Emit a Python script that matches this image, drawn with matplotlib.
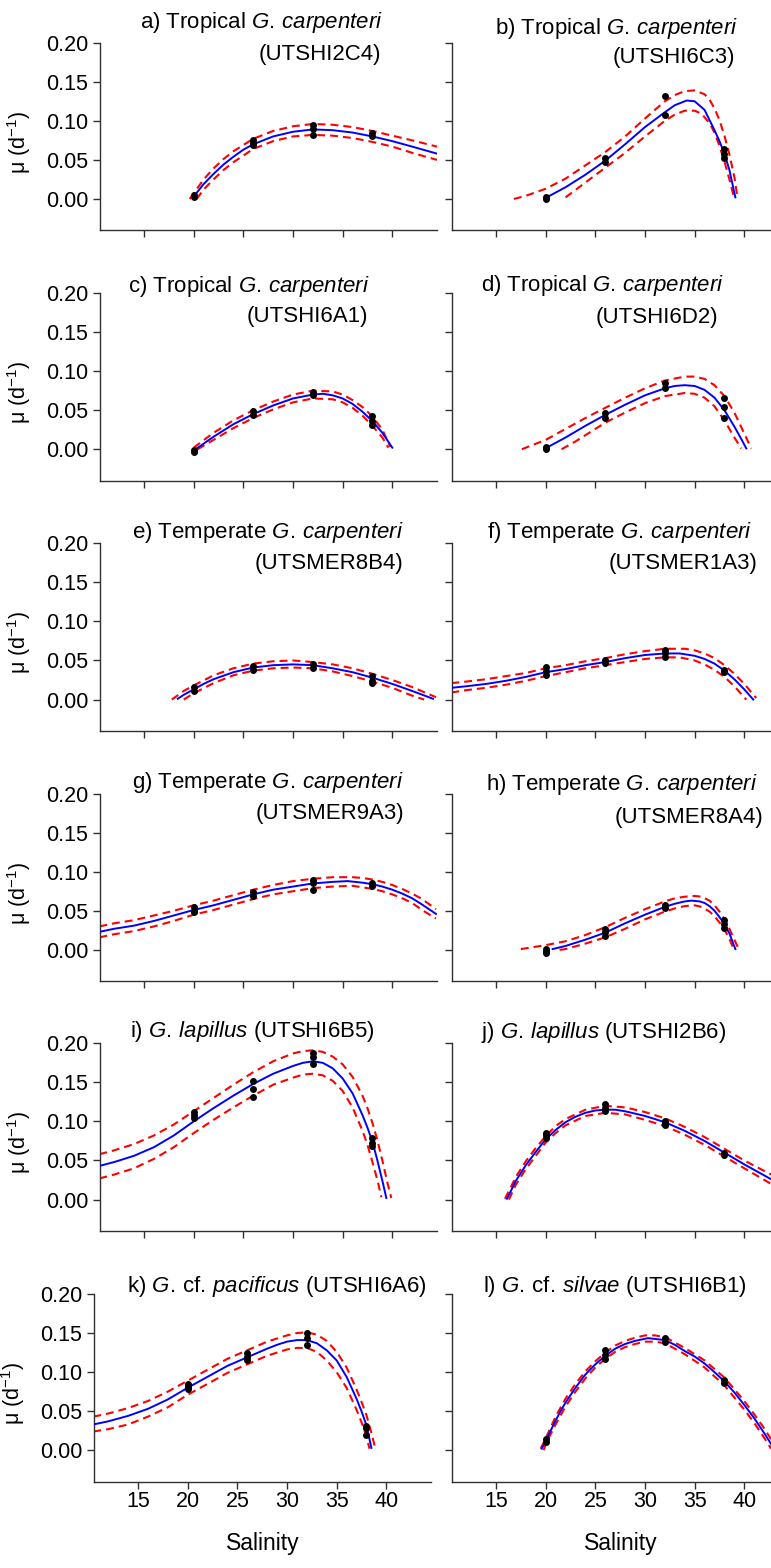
import matplotlib
matplotlib.use('Agg')
import matplotlib.pyplot as plt

plt.rcParams['font.family'] = ['Liberation Sans', 'DejaVu Sans']
plt.rcParams['mathtext.fontset'] = 'custom'
plt.rcParams['mathtext.rm'] = 'Liberation Sans'
plt.rcParams['mathtext.it'] = 'Liberation Sans:italic'
plt.rcParams['mathtext.bf'] = 'Liberation Sans:bold'

# ---- growth rate vs salinity: measured points, model fit, 95% bands ----

# a) Tropical G. carpenteri (UTSHI2C4)
a_sal = [20, 20, 26, 26, 26, 32, 32, 32, 38, 38]
a_mu = [0.005, 0.003, 0.076, 0.072, 0.069, 0.095, 0.089, 0.082, 0.084, 0.080]
a_fit_s = [20.0, 20.5, 21, 22, 23, 24, 25, 26, 28, 30, 32, 34, 36, 38, 40, 42, 44.5]
a_fit = [0.003, 0.011, 0.019, 0.032, 0.044, 0.054, 0.063, 0.070, 0.080, 0.086, 0.089, 0.088, 0.085, 0.080, 0.074, 0.067, 0.058]
a_up_s = [19.6, 20.5, 21, 22, 23, 24, 26, 28, 30, 32, 34, 36, 38, 40, 42, 44.5]
a_up = [0.000, 0.016, 0.025, 0.039, 0.051, 0.061, 0.077, 0.087, 0.093, 0.096, 0.095, 0.092, 0.087, 0.081, 0.075, 0.067]
a_lo_s = [20.3, 21, 22, 23, 24, 26, 28, 30, 32, 34, 36, 38, 40, 42, 44.5]
a_lo = [0.000, 0.012, 0.025, 0.037, 0.047, 0.064, 0.074, 0.080, 0.082, 0.081, 0.078, 0.073, 0.067, 0.059, 0.050]

# b) Tropical G. carpenteri (UTSHI6C3)
b_sal = [20, 20, 26, 26, 32, 32, 38, 38, 38]
b_mu = [0.002, 0.000, 0.052, 0.047, 0.132, 0.108, 0.064, 0.058, 0.053]
b_fit_s = [20.1, 22, 24, 26, 28, 30, 32, 33, 34.2, 35, 36, 37, 37.5, 38, 38.5, 39.1]
b_fit = [0.002, 0.015, 0.031, 0.049, 0.070, 0.092, 0.111, 0.120, 0.126, 0.125, 0.114, 0.088, 0.074, 0.058, 0.037, 0.002]
b_up_s = [16.8, 18, 20, 22, 24, 26, 28, 30, 32, 33, 34, 35, 36, 36.5, 37, 37.5, 38, 38.5, 39, 39.3]
b_up = [0.000, 0.004, 0.013, 0.026, 0.043, 0.060, 0.080, 0.103, 0.125, 0.133, 0.138, 0.139, 0.134, 0.127, 0.116, 0.101, 0.081, 0.057, 0.028, 0.003]
b_lo_s = [22.0, 24, 26, 28, 30, 32, 33, 34, 35, 35.7, 36.5, 37, 37.5, 38, 38.5, 38.9]
b_lo = [0.002, 0.021, 0.040, 0.059, 0.080, 0.100, 0.108, 0.113, 0.113, 0.109, 0.097, 0.085, 0.068, 0.048, 0.025, 0.005]

# c) Tropical G. carpenteri (UTSHI6A1)
c_sal = [20, 20, 26, 26, 32, 32, 38, 38, 38]
c_mu = [-0.003, -0.001, 0.049, 0.044, 0.073, 0.070, 0.043, 0.036, 0.031]
c_fit_s = [20.2, 22, 24, 26, 28, 30, 32, 33, 34, 35, 36, 37, 38, 39, 40]
c_fit = [0.000, 0.016, 0.032, 0.045, 0.056, 0.065, 0.070, 0.071, 0.069, 0.065, 0.058, 0.048, 0.036, 0.021, 0.002]
c_up_s = [20.0, 22, 24, 26, 28, 30, 32, 34, 35, 36, 37, 38, 39, 39.8]
c_up = [0.002, 0.021, 0.037, 0.050, 0.061, 0.070, 0.075, 0.074, 0.070, 0.063, 0.054, 0.042, 0.025, 0.003]
c_lo_s = [20.4, 22, 24, 26, 28, 30, 32, 34, 35, 36, 37, 38, 39, 39.6]
c_lo = [0.000, 0.012, 0.027, 0.040, 0.051, 0.060, 0.065, 0.064, 0.060, 0.053, 0.043, 0.030, 0.015, 0.002]

# d) Tropical G. carpenteri (UTSHI6D2)
d_sal = [20, 20, 26, 26, 32, 32, 38, 38, 38]
d_mu = [0.003, 0.000, 0.046, 0.040, 0.085, 0.078, 0.066, 0.054, 0.040]
d_fit_s = [20.1, 22, 24, 26, 28, 30, 32, 33, 34, 35, 36, 37, 38, 39, 39.7, 40.2]
d_fit = [0.002, 0.015, 0.030, 0.044, 0.057, 0.069, 0.078, 0.081, 0.082, 0.081, 0.076, 0.066, 0.050, 0.029, 0.013, 0.001]
d_up_s = [17.6, 19, 20, 22, 24, 26, 28, 30, 32, 34, 35, 36, 37, 38, 39, 40, 40.7]
d_up = [0.000, 0.007, 0.012, 0.026, 0.040, 0.053, 0.066, 0.078, 0.088, 0.093, 0.093, 0.090, 0.082, 0.068, 0.047, 0.020, 0.001]
d_lo_s = [21.6, 23, 24, 26, 28, 30, 32, 34, 35, 36, 37, 38, 39, 39.7]
d_lo = [0.000, 0.010, 0.018, 0.034, 0.047, 0.059, 0.068, 0.072, 0.071, 0.066, 0.055, 0.037, 0.015, 0.001]

# e) Temperate G. carpenteri (UTSMER8B4)
e_sal = [20, 20, 26, 26, 32, 32, 38, 38, 38]
e_mu = [0.016, 0.011, 0.043, 0.038, 0.045, 0.041, 0.030, 0.024, 0.021]
e_fit_s = [18.4, 19, 20, 21, 22, 24, 26, 28, 30, 32, 34, 36, 38, 40, 42, 44.1]
e_fit = [0.001, 0.006, 0.013, 0.020, 0.026, 0.035, 0.041, 0.044, 0.045, 0.044, 0.040, 0.035, 0.028, 0.020, 0.011, 0.001]
e_up_s = [17.8, 19, 20, 22, 24, 26, 28, 30, 32, 34, 36, 38, 40, 42, 44.4]
e_up = [0.000, 0.011, 0.018, 0.031, 0.040, 0.046, 0.049, 0.050, 0.048, 0.045, 0.040, 0.033, 0.025, 0.016, 0.003]
e_lo_s = [19.0, 20, 22, 24, 26, 28, 30, 32, 34, 36, 38, 40, 42, 43.2]
e_lo = [0.000, 0.008, 0.021, 0.031, 0.037, 0.040, 0.041, 0.040, 0.036, 0.030, 0.023, 0.015, 0.005, 0.000]

# f) Temperate G. carpenteri (UTSMER1A3)
f_sal = [20, 20, 20, 26, 26, 32, 32, 32, 38, 38]
f_mu = [0.042, 0.036, 0.031, 0.050, 0.047, 0.063, 0.060, 0.055, 0.038, 0.035]
f_fit_s = [10.5, 12, 14, 16, 18, 20, 22, 24, 26, 28, 30, 32, 33.5, 35, 36, 37, 38, 39, 40, 40.9]
f_fit = [0.015, 0.017, 0.020, 0.024, 0.029, 0.035, 0.039, 0.044, 0.048, 0.053, 0.057, 0.059, 0.059, 0.056, 0.052, 0.046, 0.037, 0.026, 0.013, 0.000]
f_up_s = [10.5, 12, 14, 16, 18, 20, 22, 24, 26, 28, 30, 32, 34, 35, 36, 37, 38, 39, 40, 41.2]
f_up = [0.021, 0.023, 0.026, 0.030, 0.034, 0.040, 0.044, 0.049, 0.053, 0.058, 0.062, 0.065, 0.065, 0.063, 0.059, 0.053, 0.044, 0.033, 0.020, 0.002]
f_lo_s = [10.5, 12, 14, 16, 18, 20, 22, 24, 26, 28, 30, 32, 33.5, 35, 36, 37, 38, 39, 40.2]
f_lo = [0.009, 0.012, 0.015, 0.019, 0.024, 0.030, 0.035, 0.040, 0.044, 0.048, 0.052, 0.054, 0.054, 0.050, 0.045, 0.038, 0.029, 0.017, 0.000]

# g) Temperate G. carpenteri (UTSMER9A3)
g_sal = [20, 20, 20, 26, 26, 32, 32, 32, 38, 38]
g_mu = [0.055, 0.050, 0.048, 0.074, 0.069, 0.090, 0.086, 0.077, 0.086, 0.082]
g_fit_s = [10.5, 12, 14, 16, 18, 20, 22, 24, 26, 28, 30, 32, 34, 35.5, 37, 38, 39, 40, 41, 42, 43, 44.4]
g_fit = [0.023, 0.027, 0.031, 0.037, 0.044, 0.051, 0.057, 0.064, 0.071, 0.077, 0.081, 0.085, 0.087, 0.088, 0.086, 0.084, 0.081, 0.077, 0.072, 0.066, 0.058, 0.046]
g_up_s = [10.5, 12, 14, 16, 18, 20, 22, 24, 26, 28, 30, 32, 34, 36, 37, 38, 39, 40, 41, 42, 43, 44.4]
g_up = [0.030, 0.034, 0.038, 0.044, 0.050, 0.057, 0.063, 0.070, 0.077, 0.083, 0.088, 0.091, 0.093, 0.093, 0.092, 0.090, 0.087, 0.083, 0.078, 0.072, 0.065, 0.052]
g_lo_s = [10.5, 12, 14, 16, 18, 20, 22, 24, 26, 28, 30, 32, 34, 36, 37, 38, 39, 40, 41, 42, 43, 44.4]
g_lo = [0.016, 0.020, 0.024, 0.030, 0.037, 0.045, 0.051, 0.058, 0.065, 0.071, 0.075, 0.079, 0.081, 0.082, 0.080, 0.078, 0.075, 0.071, 0.066, 0.060, 0.051, 0.040]

# h) Temperate G. carpenteri (UTSMER8A4)
h_sal = [20, 20, 20, 26, 26, 26, 32, 32, 38, 38, 38]
h_mu = [0.001, -0.002, -0.004, 0.027, 0.023, 0.018, 0.058, 0.054, 0.038, 0.033, 0.028]
h_fit_s = [20.7, 22, 24, 26, 28, 30, 32, 33, 34, 34.7, 35.5, 36, 36.5, 37, 37.5, 38, 38.5, 39.1]
h_fit = [0.001, 0.005, 0.013, 0.022, 0.034, 0.045, 0.055, 0.059, 0.062, 0.063, 0.062, 0.060, 0.056, 0.050, 0.042, 0.033, 0.021, 0.001]
h_up_s = [17.5, 19, 20, 22, 24, 26, 28, 30, 32, 33, 34, 35, 35.7, 36.5, 37, 37.5, 38, 38.5, 39, 39.4]
h_up = [0.001, 0.004, 0.006, 0.011, 0.019, 0.029, 0.041, 0.052, 0.062, 0.066, 0.068, 0.069, 0.068, 0.063, 0.057, 0.049, 0.039, 0.027, 0.013, 0.002]
h_lo_s = [21.4, 22, 24, 26, 28, 30, 32, 33, 34, 35, 35.7, 36.5, 37, 37.5, 38, 38.5, 38.9]
h_lo = [0.000, 0.001, 0.008, 0.016, 0.027, 0.039, 0.049, 0.053, 0.056, 0.057, 0.055, 0.049, 0.043, 0.035, 0.026, 0.014, 0.002]

# i) G. lapillus (UTSHI6B5)
i_sal = [20, 20, 20, 26, 26, 26, 32, 32, 32, 38, 38, 38]
i_mu = [0.112, 0.108, 0.104, 0.152, 0.141, 0.131, 0.187, 0.182, 0.174, 0.079, 0.073, 0.068]
i_fit_s = [10.5, 12, 14, 16, 18, 20, 22, 24, 26, 28, 30, 31, 32, 33, 34, 35, 36, 37, 37.5, 38, 38.5, 39, 39.4]
i_fit = [0.043, 0.048, 0.056, 0.067, 0.082, 0.100, 0.117, 0.133, 0.148, 0.161, 0.171, 0.175, 0.177, 0.175, 0.168, 0.155, 0.136, 0.108, 0.092, 0.074, 0.050, 0.024, 0.002]
i_up_s = [10.5, 12, 14, 16, 18, 20, 22, 24, 26, 28, 30, 31, 32, 33, 34, 35, 36, 37, 37.5, 38, 38.5, 39, 39.5, 39.9]
i_up = [0.058, 0.063, 0.071, 0.082, 0.096, 0.113, 0.130, 0.147, 0.163, 0.177, 0.187, 0.190, 0.191, 0.189, 0.183, 0.173, 0.157, 0.133, 0.117, 0.098, 0.076, 0.050, 0.022, 0.002]
i_lo_s = [10.5, 12, 14, 16, 18, 20, 22, 24, 26, 28, 30, 31, 32, 33, 34, 35, 36, 37, 37.5, 38, 38.5, 38.9]
i_lo = [0.027, 0.032, 0.040, 0.052, 0.067, 0.085, 0.102, 0.118, 0.133, 0.147, 0.156, 0.160, 0.161, 0.159, 0.152, 0.139, 0.118, 0.088, 0.070, 0.048, 0.025, 0.003]

# j) G. lapillus (UTSHI2B6)
j_sal = [20, 20, 20, 26, 26, 26, 32, 32, 32, 38, 38]
j_mu = [0.085, 0.082, 0.079, 0.122, 0.117, 0.113, 0.101, 0.098, 0.095, 0.060, 0.057]
j_fit_s = [16.1, 16.5, 17, 17.5, 18, 19, 20, 21, 22, 23, 24, 25, 26, 27, 28, 30, 32, 34, 36, 38, 40, 42.7]
j_fit = [0.001, 0.011, 0.024, 0.034, 0.044, 0.061, 0.077, 0.089, 0.099, 0.106, 0.111, 0.114, 0.115, 0.115, 0.113, 0.107, 0.099, 0.088, 0.075, 0.060, 0.045, 0.026]
j_up_s = [15.9, 16.5, 17, 17.5, 18, 19, 20, 21, 22, 24, 26, 28, 30, 32, 34, 36, 38, 40, 42.7]
j_up = [0.001, 0.016, 0.029, 0.039, 0.049, 0.066, 0.081, 0.094, 0.103, 0.115, 0.120, 0.118, 0.112, 0.104, 0.093, 0.080, 0.065, 0.050, 0.032]
j_lo_s = [16.3, 17, 17.5, 18, 19, 20, 21, 22, 24, 26, 28, 30, 32, 34, 36, 38, 40, 42.7]
j_lo = [0.000, 0.019, 0.029, 0.039, 0.056, 0.073, 0.085, 0.095, 0.107, 0.111, 0.109, 0.102, 0.094, 0.083, 0.070, 0.055, 0.040, 0.020]

# k) G. cf. pacificus (UTSHI6A6)
k_sal = [20, 20, 20, 26, 26, 26, 32, 32, 32, 38, 38, 38]
k_mu = [0.085, 0.081, 0.078, 0.124, 0.119, 0.115, 0.150, 0.144, 0.135, 0.031, 0.028, 0.019]
k_fit_s = [10.5, 12, 14, 16, 18, 20, 22, 24, 26, 28, 29, 30, 31, 32, 33, 34, 35, 36, 37, 37.5, 38, 38.5]
k_fit = [0.033, 0.037, 0.044, 0.053, 0.065, 0.080, 0.094, 0.108, 0.119, 0.130, 0.135, 0.139, 0.141, 0.141, 0.137, 0.128, 0.115, 0.094, 0.066, 0.050, 0.032, 0.003]
k_up_s = [10.5, 12, 14, 16, 18, 20, 22, 24, 26, 28, 30, 31, 32, 33, 34, 35, 36, 37, 37.5, 38, 38.5, 38.9]
k_up = [0.043, 0.047, 0.054, 0.063, 0.075, 0.089, 0.103, 0.117, 0.128, 0.139, 0.147, 0.150, 0.151, 0.148, 0.140, 0.126, 0.106, 0.078, 0.062, 0.045, 0.022, 0.002]
k_lo_s = [10.5, 12, 14, 16, 18, 20, 22, 24, 26, 28, 30, 31, 32, 33, 34, 35, 36, 37, 37.5, 38, 38.3]
k_lo = [0.024, 0.027, 0.033, 0.043, 0.055, 0.071, 0.085, 0.099, 0.110, 0.121, 0.129, 0.131, 0.131, 0.126, 0.115, 0.100, 0.080, 0.052, 0.036, 0.018, 0.002]

# l) G. cf. silvae (UTSHI6B1)
l_sal = [20, 20, 26, 26, 26, 32, 32, 38, 38]
l_mu = [0.014, 0.011, 0.128, 0.122, 0.117, 0.144, 0.139, 0.090, 0.086]
l_fit_s = [19.6, 20, 20.5, 21, 21.5, 22, 23, 24, 25, 26, 27, 28, 29, 30.3, 32, 33, 34, 35, 36, 37, 38, 39, 40, 41, 42, 42.7]
l_fit = [0.002, 0.012, 0.025, 0.038, 0.050, 0.061, 0.080, 0.097, 0.110, 0.121, 0.130, 0.136, 0.140, 0.1435, 0.141, 0.135, 0.127, 0.120, 0.111, 0.100, 0.088, 0.074, 0.058, 0.041, 0.022, 0.008]
l_up_s = [19.5, 20, 21, 22, 23, 24, 25, 26, 27, 28, 29, 30, 31, 32, 34, 36, 38, 40, 41, 42, 42.7]
l_up = [0.002, 0.015, 0.043, 0.066, 0.085, 0.101, 0.114, 0.125, 0.134, 0.140, 0.144, 0.147, 0.147, 0.145, 0.131, 0.115, 0.093, 0.063, 0.046, 0.028, 0.014]
l_lo_s = [19.8, 20, 21, 22, 23, 24, 25, 26, 27, 28, 29, 30, 31, 32, 34, 36, 38, 40, 41, 42, 42.7]
l_lo = [0.000, 0.008, 0.033, 0.056, 0.075, 0.092, 0.106, 0.117, 0.126, 0.132, 0.136, 0.139, 0.139, 0.137, 0.123, 0.106, 0.083, 0.052, 0.035, 0.016, 0.002]

# panel headings (first line, optional second line)
title_main = [
    r'a) Tropical $\mathit{G.\,carpenteri}$',
    r'b) Tropical $\mathit{G.\,carpenteri}$',
    r'c) Tropical $\mathit{G.\,carpenteri}$',
    r'd) Tropical $\mathit{G.\,carpenteri}$',
    r'e) Temperate $\mathit{G.\,carpenteri}$',
    r'f) Temperate $\mathit{G.\,carpenteri}$',
    r'g) Temperate $\mathit{G.\,carpenteri}$',
    r'h) Temperate $\mathit{G.\,carpenteri}$',
    r'i) $\mathit{G.\,lapillus}$ (UTSHI6B5)',
    r'j) $\mathit{G.\,lapillus}$ (UTSHI2B6)',
    r'k) $\mathit{G.}\,\mathrm{cf.}\,\mathit{pacificus}$ (UTSHI6A6)',
    r'l) $\mathit{G.}\,\mathrm{cf.}\,\mathit{silvae}$ (UTSHI6B1)',
]
title_strain = ['(UTSHI2C4)', '(UTSHI6C3)', '(UTSHI6A1)', '(UTSHI6D2)',
                '(UTSMER8B4)', '(UTSMER1A3)', '(UTSMER9A3)', '(UTSMER8A4)',
                None, None, None, None]

panels = [
    (a_sal, a_mu, a_fit_s, a_fit, a_up_s, a_up, a_lo_s, a_lo),
    (b_sal, b_mu, b_fit_s, b_fit, b_up_s, b_up, b_lo_s, b_lo),
    (c_sal, c_mu, c_fit_s, c_fit, c_up_s, c_up, c_lo_s, c_lo),
    (d_sal, d_mu, d_fit_s, d_fit, d_up_s, d_up, d_lo_s, d_lo),
    (e_sal, e_mu, e_fit_s, e_fit, e_up_s, e_up, e_lo_s, e_lo),
    (f_sal, f_mu, f_fit_s, f_fit, f_up_s, f_up, f_lo_s, f_lo),
    (g_sal, g_mu, g_fit_s, g_fit, g_up_s, g_up, g_lo_s, g_lo),
    (h_sal, h_mu, h_fit_s, h_fit, h_up_s, h_up, h_lo_s, h_lo),
    (i_sal, i_mu, i_fit_s, i_fit, i_up_s, i_up, i_lo_s, i_lo),
    (j_sal, j_mu, j_fit_s, j_fit, j_up_s, j_up, j_lo_s, j_lo),
    (k_sal, k_mu, k_fit_s, k_fit, k_up_s, k_up, k_lo_s, k_lo),
    (l_sal, l_mu, l_fit_s, l_fit, l_up_s, l_up, l_lo_s, l_lo),
]

# layout in pixels
W, H = 771, 1568
AX_W, AX_H = 337, 187.5
row_top = [42.7, 293, 543.3, 793.6, 1043.3, 1294]
col_left = [100, 452]
# (right edge, baseline) of heading lines
head1_pos = [(383, 28), (738, 34), (370, 292), (724, 291), (403, 538), (752, 538),
             (403, 788), (757, 790), (375, 1037), (726, 1038), (427, 1292), (747, 1292)]
head2_pos = [(381, 60), (735, 62.5), (368, 321.7), (718, 322.7), (403, 569), (757, 569),
             (404, 819), (763, 823), None, None, None, None]

AXIS_COL = '#303030'
TICK_FS = 15.5
HEAD_FS = 16

fig = plt.figure(figsize=(W / 100, H / 100), dpi=100)

for n, (sal, mu, fs, fy, us, uy, ls, ly) in enumerate(panels):
    row, col = divmod(n, 2)
    left = col_left[col]
    if row == 5 and col == 0:
        left -= 6
    top = row_top[row]
    ax = fig.add_axes([left / W, 1 - (top + AX_H) / H, AX_W / W, AX_H / H])

    dash = dict(color='#ff0000', lw=1.5, ls=(0, (3.8, 2.4)), zorder=2)
    ax.plot(us, uy, **dash)
    ax.plot(ls, ly, **dash)
    ax.plot(fs, fy, color='#0000ff', lw=1.4, zorder=3)
    ax.plot(sal, mu, 'o', color='black', ms=5, mec='none', zorder=4)

    ax.set_xlim(10.57, 44.5)
    ax.set_ylim(-0.04, 0.20)
    ax.set_xticks([15, 20, 25, 30, 35, 40])
    ax.set_yticks([0.0, 0.05, 0.10, 0.15, 0.20])
    ax.set_yticklabels(['0.00', '0.05', '0.10', '0.15', '0.20'])
    for side in ('top', 'right'):
        ax.spines[side].set_visible(False)
    for side in ('left', 'bottom'):
        ax.spines[side].set_color(AXIS_COL)
        ax.spines[side].set_linewidth(1.0)
    ax.tick_params(direction='out', length=5, width=1.0, color=AXIS_COL,
                   labelsize=TICK_FS, pad=3.5)
    ax.tick_params(axis='x', pad=1.5)
    ax.tick_params(labelleft=(col == 0), labelbottom=(row == 5))

    if col == 0:
        ax.set_ylabel(r'μ (d$^{-1}$)', fontsize=TICK_FS)
        ax.yaxis.set_label_coords(-0.20, 0.47)
    if row == 5:
        ax.set_xlabel('Salinity', fontsize=16.5)
        ax.xaxis.set_label_coords(0.5, -0.27)

    x1, y1 = head1_pos[n]
    fig.text(x1 / W, 1 - y1 / H, title_main[n], ha='right', va='baseline', fontsize=HEAD_FS)
    if title_strain[n] is not None:
        x2, y2 = head2_pos[n]
        fig.text(x2 / W, 1 - y2 / H, title_strain[n], ha='right', va='baseline', fontsize=HEAD_FS)

fig.savefig('out.png', dpi=100)
